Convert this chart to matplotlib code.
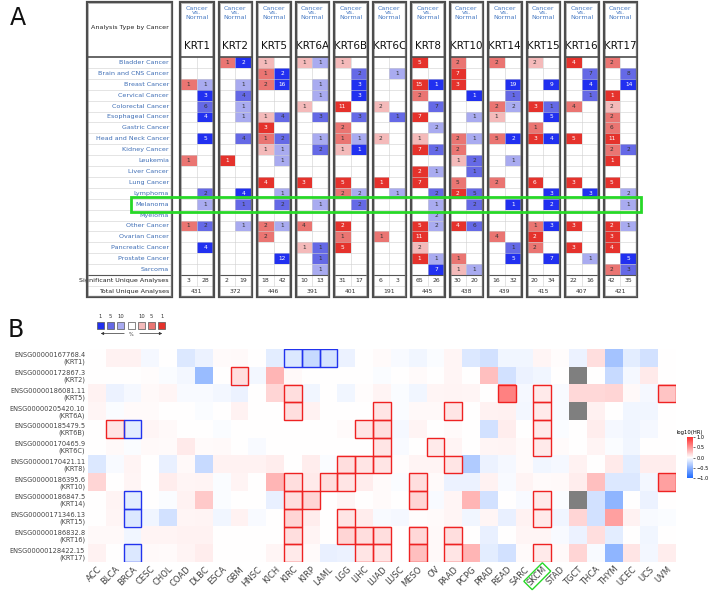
import matplotlib.pyplot as plt
import numpy as np
from matplotlib.patches import Rectangle
from matplotlib.colors import LinearSegmentedColormap

plt.rcParams['font.family'] = ['DejaVu Sans']

# ---------------- Panel A data (Oncomine summary) ----------------
cancers = ['Bladder Cancer', 'Brain and CNS Cancer', 'Breast Cancer', 'Cervical Cancer',
           'Colorectal Cancer', 'Esophageal Cancer', 'Gastric Cancer', 'Head and Neck Cancer',
           'Kidney Cancer', 'Leukemia', 'Liver Cancer', 'Lung Cancer', 'Lymphoma', 'Melanoma',
           'Myeloma', 'Other Cancer', 'Ovarian Cancer', 'Pancreatic Cancer', 'Prostate Cancer',
           'Sarcoma']
genes = ['KRT1', 'KRT2', 'KRT5', 'KRT6A', 'KRT6B', 'KRT6C', 'KRT8', 'KRT10', 'KRT14',
         'KRT15', 'KRT16', 'KRT17']
sig_up = [3, 2, 18, 10, 31, 6, 65, 30, 16, 20, 22, 42]
sig_down = [28, 19, 42, 13, 17, 3, 26, 20, 32, 34, 16, 35]
total = [431, 372, 446, 391, 401, 191, 445, 438, 439, 415, 407, 421]

# (number of analyses, gene rank percentile 1/5/10)
up = {
    'KRT1': {'Breast Cancer': (1, 5), 'Leukemia': (1, 5), 'Other Cancer': (1, 5)},
    'KRT2': {'Bladder Cancer': (1, 5), 'Leukemia': (1, 1)},
    'KRT5': {'Bladder Cancer': (1, 10), 'Brain and CNS Cancer': (1, 5), 'Breast Cancer': (2, 5),
             'Esophageal Cancer': (1, 10), 'Gastric Cancer': (3, 1), 'Head and Neck Cancer': (1, 5),
             'Kidney Cancer': (1, 10), 'Lung Cancer': (4, 1), 'Other Cancer': (2, 5),
             'Ovarian Cancer': (2, 5)},
    'KRT6A': {'Bladder Cancer': (1, 10), 'Colorectal Cancer': (1, 10), 'Lung Cancer': (3, 1),
              'Other Cancer': (4, 5), 'Pancreatic Cancer': (1, 10)},
    'KRT6B': {'Bladder Cancer': (1, 10), 'Colorectal Cancer': (11, 1), 'Gastric Cancer': (2, 5),
              'Head and Neck Cancer': (1, 5), 'Kidney Cancer': (1, 10), 'Lung Cancer': (5, 1),
              'Lymphoma': (2, 5), 'Other Cancer': (2, 1), 'Ovarian Cancer': (1, 5),
              'Pancreatic Cancer': (5, 1)},
    'KRT6C': {'Colorectal Cancer': (2, 10), 'Head and Neck Cancer': (2, 10), 'Lung Cancer': (1, 1),
              'Ovarian Cancer': (1, 5)},
    'KRT8': {'Bladder Cancer': (5, 1), 'Breast Cancer': (15, 1), 'Cervical Cancer': (2, 5),
             'Esophageal Cancer': (7, 1), 'Head and Neck Cancer': (1, 10), 'Kidney Cancer': (7, 1),
             'Liver Cancer': (2, 1), 'Lung Cancer': (7, 1), 'Other Cancer': (5, 1),
             'Ovarian Cancer': (11, 1), 'Pancreatic Cancer': (2, 10), 'Prostate Cancer': (1, 1)},
    'KRT10': {'Bladder Cancer': (2, 5), 'Brain and CNS Cancer': (7, 1), 'Breast Cancer': (3, 1),
              'Head and Neck Cancer': (2, 5), 'Kidney Cancer': (2, 5), 'Leukemia': (1, 10),
              'Lung Cancer': (5, 5), 'Lymphoma': (2, 1), 'Other Cancer': (4, 1),
              'Prostate Cancer': (1, 5), 'Sarcoma': (1, 10)},
    'KRT14': {'Bladder Cancer': (2, 5), 'Colorectal Cancer': (2, 5), 'Esophageal Cancer': (1, 10),
              'Head and Neck Cancer': (5, 5), 'Lung Cancer': (2, 5), 'Ovarian Cancer': (4, 5)},
    'KRT15': {'Bladder Cancer': (2, 10), 'Colorectal Cancer': (3, 1), 'Gastric Cancer': (1, 5),
              'Head and Neck Cancer': (3, 1), 'Lung Cancer': (6, 1), 'Other Cancer': (1, 5),
              'Ovarian Cancer': (2, 1), 'Pancreatic Cancer': (2, 5)},
    'KRT16': {'Bladder Cancer': (4, 1), 'Colorectal Cancer': (4, 5), 'Head and Neck Cancer': (5, 1),
              'Lung Cancer': (3, 1), 'Other Cancer': (3, 1), 'Pancreatic Cancer': (3, 1)},
    'KRT17': {'Bladder Cancer': (2, 5), 'Cervical Cancer': (1, 1), 'Colorectal Cancer': (2, 10),
              'Esophageal Cancer': (2, 5), 'Gastric Cancer': (6, 5), 'Head and Neck Cancer': (11, 1),
              'Kidney Cancer': (2, 5), 'Leukemia': (1, 1), 'Lung Cancer': (5, 1),
              'Other Cancer': (2, 1), 'Ovarian Cancer': (3, 1), 'Pancreatic Cancer': (4, 1),
              'Sarcoma': (2, 5)},
}
down = {
    'KRT1': {'Breast Cancer': (1, 10), 'Cervical Cancer': (3, 1), 'Colorectal Cancer': (6, 5),
             'Esophageal Cancer': (4, 1), 'Head and Neck Cancer': (5, 1), 'Lymphoma': (2, 5),
             'Melanoma': (1, 10), 'Other Cancer': (2, 5), 'Pancreatic Cancer': (4, 1)},
    'KRT2': {'Bladder Cancer': (2, 1), 'Breast Cancer': (1, 10), 'Cervical Cancer': (4, 5),
             'Colorectal Cancer': (1, 10), 'Esophageal Cancer': (1, 10),
             'Head and Neck Cancer': (4, 5), 'Lymphoma': (4, 1), 'Melanoma': (1, 5),
             'Other Cancer': (1, 10)},
    'KRT5': {'Brain and CNS Cancer': (2, 1), 'Breast Cancer': (16, 1), 'Esophageal Cancer': (4, 5),
             'Head and Neck Cancer': (2, 5), 'Kidney Cancer': (1, 10), 'Leukemia': (1, 10),
             'Lymphoma': (1, 10), 'Melanoma': (2, 5), 'Other Cancer': (1, 10),
             'Prostate Cancer': (12, 1)},
    'KRT6A': {'Bladder Cancer': (1, 10), 'Breast Cancer': (1, 10), 'Cervical Cancer': (1, 10),
              'Esophageal Cancer': (3, 5), 'Head and Neck Cancer': (1, 10), 'Kidney Cancer': (2, 5),
              'Melanoma': (1, 10), 'Pancreatic Cancer': (1, 5), 'Prostate Cancer': (1, 5),
              'Sarcoma': (1, 10)},
    'KRT6B': {'Brain and CNS Cancer': (2, 5), 'Breast Cancer': (3, 1), 'Cervical Cancer': (3, 1),
              'Esophageal Cancer': (3, 5), 'Head and Neck Cancer': (1, 10), 'Kidney Cancer': (1, 1),
              'Lymphoma': (2, 10), 'Melanoma': (2, 5)},
    'KRT6C': {'Brain and CNS Cancer': (1, 10), 'Esophageal Cancer': (1, 5), 'Lymphoma': (1, 10)},
    'KRT8': {'Breast Cancer': (1, 1), 'Colorectal Cancer': (7, 5), 'Gastric Cancer': (2, 10),
             'Kidney Cancer': (2, 5), 'Liver Cancer': (1, 10), 'Lymphoma': (2, 5),
             'Melanoma': (1, 10), 'Myeloma': (2, 10), 'Other Cancer': (2, 10),
             'Prostate Cancer': (1, 10), 'Sarcoma': (7, 1)},
    'KRT10': {'Cervical Cancer': (1, 1), 'Esophageal Cancer': (1, 10),
              'Head and Neck Cancer': (1, 10), 'Leukemia': (2, 5), 'Liver Cancer': (1, 5),
              'Lymphoma': (5, 5), 'Melanoma': (2, 5), 'Other Cancer': (6, 5), 'Sarcoma': (1, 10)},
    'KRT14': {'Breast Cancer': (19, 1), 'Cervical Cancer': (1, 5), 'Colorectal Cancer': (2, 10),
              'Head and Neck Cancer': (2, 1), 'Leukemia': (1, 10), 'Melanoma': (1, 1),
              'Pancreatic Cancer': (1, 5), 'Prostate Cancer': (5, 1)},
    'KRT15': {'Breast Cancer': (9, 1), 'Colorectal Cancer': (1, 5), 'Esophageal Cancer': (5, 1),
              'Head and Neck Cancer': (4, 1), 'Lymphoma': (3, 1), 'Melanoma': (2, 1),
              'Other Cancer': (3, 1), 'Prostate Cancer': (7, 1)},
    'KRT16': {'Brain and CNS Cancer': (7, 5), 'Breast Cancer': (4, 1), 'Cervical Cancer': (1, 5),
              'Lymphoma': (3, 1), 'Prostate Cancer': (1, 10)},
    'KRT17': {'Brain and CNS Cancer': (8, 5), 'Breast Cancer': (14, 1), 'Kidney Cancer': (2, 5),
              'Lymphoma': (2, 10), 'Melanoma': (1, 10), 'Other Cancer': (1, 10),
              'Prostate Cancer': (5, 1), 'Sarcoma': (3, 5)},
}

# ---------------- Panel B data (GEPIA survival map, log10(HR)) ----------------
tcga = ['ACC', 'BLCA', 'BRCA', 'CESC', 'CHOL', 'COAD', 'DLBC', 'ESCA', 'GBM', 'HNSC', 'KICH',
        'KIRC', 'KIRP', 'LAML', 'LGG', 'LIHC', 'LUAD', 'LUSC', 'MESO', 'OV', 'PAAD', 'PCPG',
        'PRAD', 'READ', 'SARC', 'SKCM', 'STAD', 'TGCT', 'THCA', 'THYM', 'UCEC', 'UCS', 'UVM']
ens_ids = ['ENSG00000167768.4', 'ENSG00000172867.3', 'ENSG00000186081.11', 'ENSG00000205420.10',
           'ENSG00000185479.5', 'ENSG00000170465.9', 'ENSG00000170421.11', 'ENSG00000186395.6',
           'ENSG00000186847.5', 'ENSG00000171346.13', 'ENSG00000186832.8', 'ENSG00000128422.15']
na = np.nan
log_hr = [
    [0, 0.06, 0.06, -0.04, 0, -0.15, -0.08, 0.02, 0.03, 0, -0.12, -0.15, -0.25, -0.18, -0.08, 0, 0.02,
     -0.03, -0.06, -0.02, 0.04, -0.15, -0.2, -0.06, -0.06, 0.04, 0.01, -0.08, 0.15, -0.4, -0.12, -0.2, 0],
    [0, 0, 0, 0.01, -0.02, -0.05, -0.45, 0, 0.15, -0.05, 0.35, 0.03, 0, 0, 0, 0, -0.02,
     0, 0.02, 0, 0.04, 0, 0.3, -0.2, -0.08, -0.06, 0, na, 0, -0.25, -0.04, 0.1, 0],
    [0.06, -0.08, -0.04, 0.03, 0.04, -0.03, -0.03, -0.05, -0.08, 0, 0.2, 0.15, -0.06, 0, -0.06, 0.01, 0.05,
     -0.02, -0.06, 0.04, 0.05, 0.04, 0, 0.6, -0.04, 0.1, -0.03, 0.18, 0.18, 0.2, 0.03, -0.04, 0.28],
    [0.04, -0.02, 0.02, 0.02, 0, 0, -0.02, 0, 0.06, 0, 0, 0.15, 0.06, 0, 0, 0, 0.12,
     -0.02, 0.03, 0.03, 0.12, 0, 0.06, 0.07, -0.05, 0.1, -0.03, na, 0.07, 0, -0.06, -0.06, 0],
    [0, 0.12, -0.12, 0.04, 0.03, 0, 0, -0.02, 0, 0, 0, 0, 0, 0, 0.02, 0.12, 0.15,
     -0.04, 0.05, 0, 0.02, 0, -0.2, 0.08, 0, 0.1, -0.02, 0, 0.08, -0.04, -0.07, -0.04, 0],
    [0, 0.03, -0.02, 0.03, 0.02, 0.1, 0.02, 0.03, 0, -0.03, 0, 0, 0, 0, 0, 0, 0.12,
     -0.03, 0, 0.1, 0.05, 0, 0.04, 0.05, 0.02, 0.1, 0.02, 0, 0.05, -0.02, -0.06, 0, 0],
    [-0.15, -0.03, 0.05, 0, -0.1, 0.03, -0.25, 0.06, 0.06, 0.06, 0.08, 0, 0.08, -0.02, 0.15, 0.12, 0.12,
     0.01, 0.05, 0.05, 0.12, -0.35, -0.08, -0.04, 0.02, -0.06, -0.04, 0.06, 0, 0.1, -0.12, 0.08, 0.08],
    [0.2, 0, 0.04, 0, 0.08, 0.04, 0.05, -0.02, 0.05, 0, 0.35, 0.15, 0.1, 0.15, 0.12, 0.08, 0.02,
     -0.02, 0.15, 0.02, -0.08, -0.08, 0.06, -0.03, 0.05, 0.02, 0.03, 0.08, 0.3, -0.15, -0.15, -0.05, 0.45],
    [0, 0.05, -0.12, 0, -0.02, 0.06, 0.25, -0.02, 0, 0, -0.1, 0.15, 0.2, 0, 0.04, 0, 0.02,
     0, 0.2, -0.03, 0.04, 0.35, -0.2, 0, -0.03, 0.1, -0.02, na, -0.2, -0.5, 0, -0.08, 0],
    [0, 0.04, -0.15, -0.07, -0.2, 0.04, 0.05, -0.06, 0.06, -0.03, 0, 0.2, 0.08, 0, 0.12, 0.08, -0.03,
     -0.04, 0.01, 0.02, 0.04, -0.06, 0.04, -0.1, 0.06, 0.1, -0.07, 0.2, -0.2, 0.45, 0.06, -0.03, -0.02],
    [0.03, 0.03, -0.06, 0.05, 0.05, 0.06, 0.06, 0, 0, 0, 0, 0.15, 0.05, 0, 0.2, 0.15, 0.15,
     0, 0.18, 0.03, 0.15, 0, -0.1, 0, 0.04, 0.04, -0.03, -0.08, 0.15, -0.12, 0, -0.06, 0],
    [0.06, 0, -0.15, 0.03, 0.02, 0.05, 0.08, 0, 0, 0, 0.04, 0.1, 0.02, -0.1, -0.08, 0.12, 0.12,
     0, 0.3, 0.03, 0.12, 0.35, -0.12, -0.2, 0.02, 0.1, 0.03, 0.2, -0.03, -0.5, 0.12, -0.05, 0.08],
]
sig_red = [('KRT2', 'GBM'), ('KRT5', 'KIRC'), ('KRT5', 'READ'), ('KRT5', 'SKCM'), ('KRT5', 'UVM'),
           ('KRT6A', 'KIRC'), ('KRT6A', 'LUAD'), ('KRT6A', 'PAAD'), ('KRT6A', 'SKCM'),
           ('KRT6B', 'BLCA'), ('KRT6B', 'LIHC'), ('KRT6B', 'LUAD'), ('KRT6B', 'SKCM'),
           ('KRT6C', 'LUAD'), ('KRT6C', 'OV'), ('KRT6C', 'SKCM'),
           ('KRT8', 'LGG'), ('KRT8', 'LIHC'), ('KRT8', 'LUAD'), ('KRT8', 'PAAD'),
           ('KRT10', 'KIRC'), ('KRT10', 'LAML'), ('KRT10', 'LGG'), ('KRT10', 'MESO'), ('KRT10', 'UVM'),
           ('KRT14', 'KIRC'), ('KRT14', 'KIRP'), ('KRT14', 'MESO'), ('KRT14', 'SKCM'),
           ('KRT15', 'KIRC'), ('KRT15', 'LGG'), ('KRT15', 'SKCM'),
           ('KRT16', 'KIRC'), ('KRT16', 'LGG'), ('KRT16', 'LIHC'), ('KRT16', 'LUAD'),
           ('KRT16', 'MESO'), ('KRT16', 'PAAD'),
           ('KRT17', 'KIRC'), ('KRT17', 'LIHC'), ('KRT17', 'LUAD'), ('KRT17', 'MESO'),
           ('KRT17', 'PAAD'), ('KRT17', 'SKCM')]
sig_blue = [('KRT1', 'KIRC'), ('KRT1', 'KIRP'), ('KRT1', 'LAML'), ('KRT6B', 'BRCA'),
            ('KRT14', 'BRCA'), ('KRT15', 'BRCA'), ('KRT17', 'BRCA')]

# ---------------- styling ----------------
W, H = 709, 598
red_shade = {1: '#E5322C', 5: '#EA7572', 10: '#F4BABA'}
blue_shade = {1: '#2130F0', 5: '#6569E6', 10: '#A9ABF0'}
legend_cols = [blue_shade[1], blue_shade[5], blue_shade[10], '#FFFFFF',
               red_shade[10], red_shade[5], red_shade[1]]
legend_labels = ['1', '5', '10', '', '10', '5', '1']
label_blue = '#3D6DB5'
green = '#27D827'

fig = plt.figure(figsize=(W / 100, H / 100), dpi=100)

# overlay axes in pixel units for the table / annotations
ov = fig.add_axes([0, 0, 1, 1])
ov.set_xlim(0, W)
ov.set_ylim(H, 0)
ov.axis('off')

# table layout
lab_x0, lab_x1 = 87, 172
col_x0, col_pitch, col_w = 180, 38.5, 33.5
top, head_bot = 2, 57
row_h = 10.9
body_bot = head_bot + len(cancers) * row_h
sig_bot = body_bot + 11
tot_bot = sig_bot + 11


def frame(x0, x1):
    ov.add_patch(Rectangle((x0, top), x1 - x0, tot_bot - top, fill=False, ec='#4d4d4d', lw=1.6, zorder=5))
    ov.add_patch(Rectangle((x0 + 1.3, top + 1.3), x1 - x0 - 2.6, tot_bot - top - 2.6,
                           fill=False, ec='#8a8a8a', lw=0.4, zorder=5))
    ov.plot([x0, x1], [head_bot, head_bot], color='#4d4d4d', lw=1.2, zorder=5)
    for i in range(1, len(cancers) + 2):
        yy = head_bot + i * row_h if i <= len(cancers) else sig_bot
        ov.plot([x0, x1], [yy, yy], color='#555555' if i == len(cancers) else '#d0d0d0',
                lw=0.8 if i == len(cancers) else 0.4, zorder=3)


# label column
frame(lab_x0, lab_x1)
ov.text((lab_x0 + lab_x1) / 2, 28, 'Analysis Type by Cancer', ha='center', va='center',
        fontsize=4.6, color='#222222')
for i, c in enumerate(cancers):
    ov.text(lab_x1 - 3, head_bot + (i + 0.5) * row_h, c, ha='right', va='center',
            fontsize=4.6, color=label_blue)
ov.text(lab_x1 - 3, body_bot + 5.5, 'Significant Unique Analyses', ha='right', va='center',
        fontsize=4.6, color='#222222')
ov.text(lab_x1 - 3, sig_bot + 5.5, 'Total Unique Analyses', ha='right', va='center',
        fontsize=4.6, color='#222222')

for j, g in enumerate(genes):
    x0 = col_x0 + j * col_pitch
    x1 = x0 + col_w
    xm = x0 + col_w / 2
    for i, c in enumerate(cancers):
        y0 = head_bot + i * row_h
        for side, d, shades in ((0, up[g], red_shade), (1, down[g], blue_shade)):
            if c in d:
                n, p = d[c]
                ov.add_patch(Rectangle((x0 + side * col_w / 2, y0), col_w / 2, row_h,
                                       fc=shades[p], ec='none', zorder=2))
                ov.text(x0 + (side + 0.5) * col_w / 2, y0 + row_h / 2, str(n), ha='center',
                        va='center', fontsize=4.2, zorder=4,
                        color='white' if p == 1 else '#333333')
    ov.plot([xm, xm], [head_bot, sig_bot], color='#d0d0d0', lw=0.4, zorder=3)
    frame(x0, x1)
    ov.text(xm, 13, 'Cancer\nvs.\nNormal', ha='center', va='center', fontsize=4.6,
            color='#4A7CC4', linespacing=0.95)
    ov.text(xm, 46, g, ha='center', va='center', fontsize=7.5, color='#111111')
    ov.text(x0 + col_w / 4, body_bot + 5.5, str(sig_up[j]), ha='center', va='center',
            fontsize=4.4, color='#333333')
    ov.text(x0 + 3 * col_w / 4, body_bot + 5.5, str(sig_down[j]), ha='center', va='center',
            fontsize=4.4, color='#333333')
    ov.text(xm, sig_bot + 5.5, str(total[j]), ha='center', va='center', fontsize=4.4,
            color='#333333')

# melanoma highlight
mel = cancers.index('Melanoma')
ov.add_patch(Rectangle((131, head_bot + mel * row_h - 2), 510, row_h + 4, fill=False,
                       ec=green, lw=2.0, zorder=6))

# panel letters
ov.text(10, 18, 'A', fontsize=17, ha='left', va='center', color='#111111')
ov.text(8, 330, 'B', fontsize=17, ha='left', va='center', color='#111111')

# percentile legend
for k, col in enumerate(legend_cols):
    lx = 97 + k * 10.2
    ov.add_patch(Rectangle((lx, 322), 7, 7, fc=col, ec='#555555', lw=0.5))
    ov.text(lx + 3.5, 316, legend_labels[k], ha='center', va='center', fontsize=3.8, color='#333333')
ov.annotate('', xy=(98, 333.5), xytext=(127, 333.5),
            arrowprops=dict(arrowstyle='-|>', lw=0.5, color='#333333', mutation_scale=4))
ov.annotate('', xy=(165, 333.5), xytext=(137, 333.5),
            arrowprops=dict(arrowstyle='-|>', lw=0.5, color='#333333', mutation_scale=4))
ov.text(131.5, 334.5, '%', ha='center', va='center', fontsize=3.5, color='#333333')

# ---------------- Panel B heatmap ----------------
hm_l, hm_r, hm_t, hm_b = 88, 676, 349, 562
ax = fig.add_axes([hm_l / W, 1 - hm_b / H, (hm_r - hm_l) / W, (hm_b - hm_t) / H])
cmap = LinearSegmentedColormap.from_list('hr', ['#1F6BFF', '#FFFFFF', '#FF2D2D'])
cmap.set_bad('#7f7f7f')
vals = np.ma.masked_invalid(np.array(log_hr, dtype=float))
im = ax.imshow(vals, cmap=cmap, vmin=-1, vmax=1, aspect='auto', interpolation='nearest')

for pairs, ec in ((sig_red, '#EE2222'), (sig_blue, '#2233EE')):
    for g, t in pairs:
        r, c = genes.index(g), tcga.index(t)
        ax.add_patch(Rectangle((c - 0.5, r - 0.5), 1, 1, fill=False, ec=ec, lw=1.0))

ax.set_xticks(range(len(tcga)))
ax.set_xticklabels(tcga, rotation=45, ha='right', rotation_mode='anchor', fontsize=6,
                   color='#444444')
ax.set_yticks(range(len(genes)))
ax.set_yticklabels([f'{e}\n({g})' for e, g in zip(ens_ids, genes)], fontsize=4.8,
                   color='#444444', linespacing=1.1)
ax.tick_params(length=0, pad=2)
for s in ax.spines.values():
    s.set_visible(False)
skcm = ax.get_xticklabels()[tcga.index('SKCM')]
skcm.set_bbox(dict(facecolor='none', edgecolor=green, lw=1.0, pad=1.0))

cax = fig.add_axes([687 / W, 1 - 478 / H, 6 / W, 41 / H])
cb = fig.colorbar(im, cax=cax, ticks=[-1, -0.5, 0, 0.5, 1])
cb.ax.tick_params(labelsize=3.6, length=1.5, width=0.4, pad=1)
cb.outline.set_visible(False)
cb.ax.set_title('log10(HR)', fontsize=3.8, pad=2)

fig.savefig('out.png', dpi=100)
